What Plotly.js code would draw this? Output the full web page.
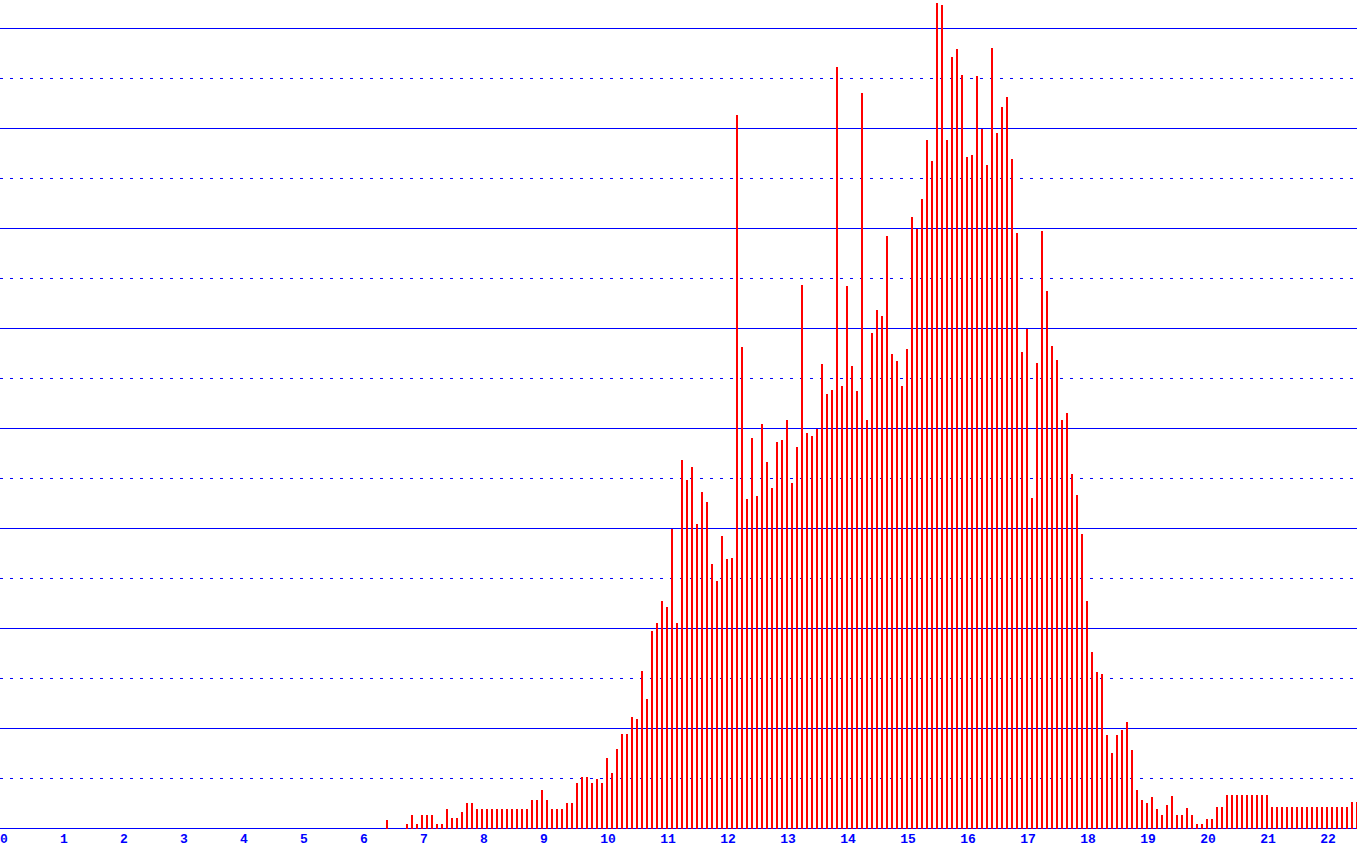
<!DOCTYPE html>
<html>
<head>
<meta charset="utf-8">
<script src="https://cdn.plot.ly/plotly-3.0.1.min.js"></script>
<style>
html,body{margin:0;padding:0;background:#fff;}
#chart{width:1357px;height:848px;}
</style>
</head>
<body>
<div id="chart"></div>
<script>
// Histogram-style bars: first bin centre and bin step (x units), values per bin
const binStart = 6.45;
const binStep = 1 / 12;
const counts = [
  0.9, 0, 0, 0, 0.5, 1.4, 0.5, 1.4, 1.4, 1.4, 0.5, 0.5, 2.0, 1.1, 1.1, 1.7, 2.6, 2.6,
  2.0, 2.0, 2.0, 2.0, 2.0, 2.0, 2.0, 2.0, 2.0, 2.0, 2.0, 2.9, 2.9, 3.9, 2.9, 2.0, 2.0, 2.0, 2.6, 2.6,
  4.6, 5.2, 5.2, 4.6, 5.0, 4.6, 7.1, 5.6, 8.0, 9.5, 9.5, 11.2, 11.0, 15.8, 13.0, 19.8, 20.6, 22.8, 22.2, 30.0,
  20.6, 36.9, 34.9, 36.2, 30.5, 33.7, 32.7, 26.5, 24.8, 29.3, 27.0, 27.1, 71.4, 48.2, 33.0, 39.1, 33.3, 40.5, 36.7, 34.1,
  38.7, 38.9, 40.9, 34.6, 38.2, 54.4, 39.6, 39.3, 40.0, 46.5, 43.5, 43.9, 76.2, 44.3, 54.3, 46.3, 43.8, 73.6, 40.9, 49.6,
  51.9, 51.3, 59.3, 47.5, 46.8, 44.3, 48.0, 61.2, 60.0, 63.0, 68.9, 66.8, 82.6, 82.4, 68.9, 77.2, 78.0, 75.4, 67.2, 67.4,
  75.3, 70.0, 66.4, 78.1, 69.6, 72.2, 73.2, 67.0, 59.6, 47.7, 50.0, 33.1, 46.6, 59.8, 53.8, 48.3, 46.9, 40.9, 41.6, 35.5,
  33.4, 29.5, 22.8, 17.7, 15.7, 15.5, 9.4, 7.6, 9.4, 9.9, 10.7, 7.9, 3.9, 2.9, 2.6, 3.2, 2.0, 1.4, 2.4, 3.3,
  1.4, 1.4, 2.1, 1.4, 0.5, 0.5, 1.0, 1.0, 2.2, 2.2, 3.4, 3.4, 3.4, 3.4, 3.4, 3.4, 3.4, 3.4, 3.4, 2.2,
  2.2, 2.2, 2.2, 2.2, 2.2, 2.2, 2.2, 2.2, 2.2, 2.2, 2.2, 2.2, 2.2, 2.2, 2.2, 2.7, 2.7
];
const tickOne = [0, 1, 2, 3, 4, 5, 6, 7, 8, 9];
const tickTwo = [10, 11, 12, 13, 14, 15, 16, 17, 18, 19, 20, 21, 22];

const W = 1357, H = 848;
const pxPerUnit = 60;
const xMax = W / pxPerUnit;

const blue = '#0000ff';
const red = '#ff0000';
const tickFont = {family: 'Liberation Mono, DejaVu Sans Mono, monospace', size: 13, color: blue, weight: 'bold'};

const bars = {
  type: 'bar',
  x0: binStart,
  dx: binStep,
  y: counts,
  width: 2 / pxPerUnit,
  marker: {color: red, line: {width: 0}},
  hoverinfo: 'x+y'
};
// empty helper trace so the second (two-digit label) x axis is drawn
const labelAxisTrace = {
  type: 'scatter',
  mode: 'markers',
  x: [],
  y: [],
  xaxis: 'x2',
  yaxis: 'y',
  hoverinfo: 'skip',
  showlegend: false
};

const baseX = {
  range: [0, xMax],
  showgrid: false,
  zeroline: false,
  showline: false,
  ticks: '',
  tickmode: 'array',
  tickfont: tickFont,
  fixedrange: true
};

const layout = {
  width: W,
  height: H,
  margin: {l: 0, r: 0, t: 0, b: 19, pad: 0},
  paper_bgcolor: '#ffffff',
  plot_bgcolor: '#ffffff',
  showlegend: false,
  bargap: 0,
  xaxis: Object.assign({}, baseX, {
    tickvals: tickOne,
    ticktext: tickOne.map(String),
    ticklabelshift: 4,
    ticklabelstandoff: 0
  }),
  xaxis2: Object.assign({}, baseX, {
    overlaying: 'x',
    anchor: 'y',
    side: 'bottom',
    tickvals: tickTwo,
    ticktext: tickTwo.map(String),
    ticklabelshift: 8,
    ticklabelstandoff: 0
  }),
  yaxis: {
    range: [-0.05, 82.85],
    showticklabels: false,
    ticks: '',
    tickmode: 'linear',
    tick0: 0,
    dtick: 10,
    showgrid: true,
    gridcolor: blue,
    gridwidth: 1,
    zeroline: true,
    zerolinecolor: blue,
    zerolinewidth: 1,
    showline: false,
    minor: {
      tickmode: 'linear',
      tick0: 5,
      dtick: 10,
      showgrid: true,
      gridcolor: blue,
      gridwidth: 1,
      griddash: '3px,7px',
      ticks: ''
    },
    fixedrange: true
  }
};

Plotly.newPlot('chart', [bars, labelAxisTrace], layout, {staticPlot: true, displayModeBar: false});
</script>
</body>
</html>
